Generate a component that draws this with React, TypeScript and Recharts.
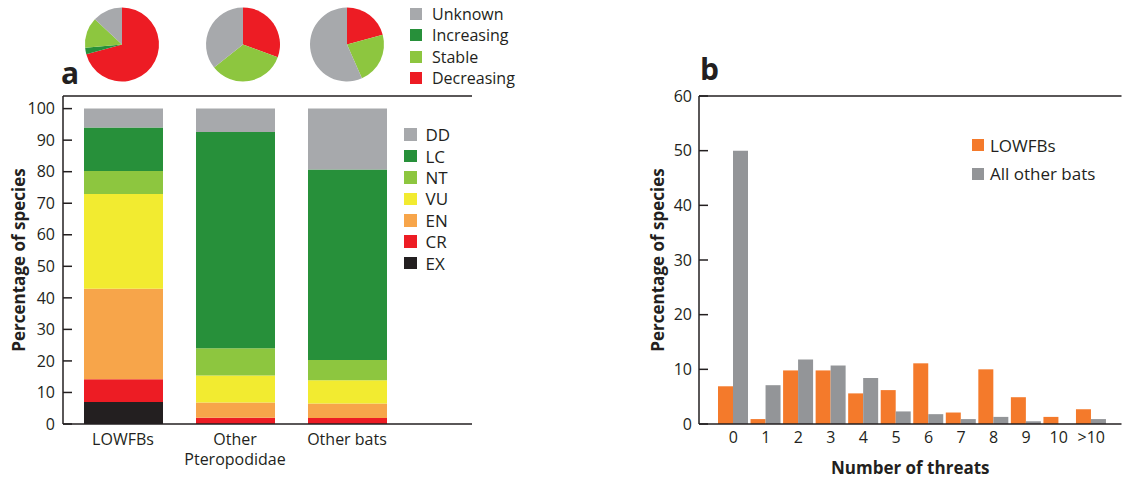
import React from "react";
import { BarChart, Bar, XAxis, YAxis, PieChart, Pie, Cell, ReferenceLine } from "recharts";

// panel a: IUCN status per group (percent, bottom to top)
const groups = ["LOWFBs", "Other Pteropodidae", "Other bats"];
const ex = [7, 0, 0];
const cr = [7.2, 2, 1.9];
const en = [28.7, 4.8, 4.6];
const vu = [30, 8.6, 7.4];
const nt = [7.3, 8.6, 6.4];
const lc = [13.8, 68.6, 60.4];
const dd = [6, 7.4, 19.3];
const statusKeys = ["EX", "CR", "EN", "VU", "NT", "LC", "DD"];
const statusTicks = [0, 10, 20, 30, 40, 50, 60, 70, 80, 90, 100];

// panel a pies: population trend
const trendLabels = ["Decreasing", "Increasing", "Stable", "Unknown"];
const trendLegendOrder = ["Unknown", "Increasing", "Stable", "Decreasing"];
const trendLowfbs = [70.8, 2.8, 13.3, 13.1];
const trendPtero = [30.6, 0, 33.7, 35.7];
const trendOther = [20.8, 0, 22.6, 56.6];

// panel b: number of threats
const threats = ["0", "1", "2", "3", "4", "5", "6", "7", "8", "9", "10", ">10"];
const lowfbsThreats = [6.9, 0.9, 9.8, 9.8, 5.6, 6.2, 11.1, 2.1, 10.0, 4.9, 1.3, 2.7];
const otherThreats = [50, 7.1, 11.8, 10.7, 8.4, 2.3, 1.8, 0.9, 1.3, 0.5, 0, 0.9];
const threatTicks = [0, 10, 20, 30, 40, 50, 60];

const FONT = "'Open Sans', sans-serif";
const INK = "#231f20";

const statusColors: Record<string, string> = {
  DD: "#a7a9ac",
  LC: "#27903a",
  NT: "#8dc63f",
  VU: "#f2eb30",
  EN: "#f7a54a",
  CR: "#ed1c24",
  EX: "#231f20",
};

const trendColors: Record<string, string> = {
  Unknown: "#a7a9ac",
  Increasing: "#27903a",
  Stable: "#8dc63f",
  Decreasing: "#ed1c24",
};

const statusRows = groups.map((g, i) => ({
  group: g,
  EX: ex[i],
  CR: cr[i],
  EN: en[i],
  VU: vu[i],
  NT: nt[i],
  LC: lc[i],
  DD: dd[i],
}));

const pieSets = [trendLowfbs, trendPtero, trendOther].map((vals) =>
  trendLabels.map((name, i) => ({ name, value: vals[i] }))
);
const pieCenters = [122, 243, 347];

const threatRows = threats.map((t, i) => ({
  threats: t,
  LOWFBs: lowfbsThreats[i],
  "All other bats": otherThreats[i],
}));

function GroupTick(props: any) {
  const { x, y, payload } = props;
  const value = String(payload.value);
  const lines = value === "Other Pteropodidae" ? ["Other", "Pteropodidae"] : [value];
  return (
    <text x={x} y={y} textAnchor="middle" fill={INK} fontSize={16} fontFamily={FONT}>
      {lines.map((l: string, i: number) => (
        <tspan key={i} x={x} dy={i === 0 ? 13 : 20}>
          {l}
        </tspan>
      ))}
    </text>
  );
}

const axisTick = { fill: INK, fontSize: 16, fontFamily: FONT };
const axisLine = { stroke: INK, strokeWidth: 1.5 };
const tickLine = { stroke: INK, strokeWidth: 1.5 };

export default function App() {
  return (
    <div style={{ position: "absolute", left: 0, top: 0, width: 1123, height: 480, background: "#fff", fontFamily: FONT, color: INK }}>
      {/* pies */}
      <div style={{ position: "absolute", left: 0, top: 0 }}>
        <PieChart width={400} height={92} margin={{ top: 0, right: 0, bottom: 0, left: 0 }}>
          {pieSets.map((set, k) => (
            <Pie
              key={k}
              data={set}
              dataKey="value"
              cx={pieCenters[k]}
              cy={44.5}
              outerRadius={37}
              startAngle={90}
              endAngle={-270}
              stroke="none"
              isAnimationActive={false}
            >
              {set.map((d) => (
                <Cell key={d.name} fill={trendColors[d.name]} />
              ))}
            </Pie>
          ))}
        </PieChart>
      </div>
      <div style={{ position: "absolute", left: 410, top: 3 }}>
        {trendLegendOrder.map((t) => (
          <div key={t} style={{ display: "flex", alignItems: "center", height: 21.5, fontSize: 16 }}>
            <span style={{ width: 12, height: 12, background: trendColors[t], marginRight: 10 }} />
            {t}
          </div>
        ))}
      </div>
      <div style={{ position: "absolute", left: 61, top: 52, fontSize: 30, fontWeight: 700 }}>a</div>

      {/* panel a */}
      <div style={{ position: "absolute", left: 0, top: 0 }}>
        <BarChart width={480} height={480} data={statusRows} margin={{ top: 96, right: 8, left: 0, bottom: 0 }}>
          <XAxis
            dataKey="group"
            height={56}
            interval={0}
            tickLine={false}
            axisLine={axisLine}
            tick={<GroupTick />}
            padding={{ left: 4, right: 69 }}
          />
          <YAxis
            yAxisId="l"
            width={63}
            domain={[0, 104]}
            ticks={statusTicks}
            allowDataOverflow
            tickSize={-9}
            tickMargin={17}
            tick={axisTick}
            tickLine={tickLine}
            axisLine={axisLine}
            label={{
              value: "Percentage of species",
              angle: -90,
              position: "center",
              dx: -13,
              style: { fill: INK, fontSize: 17, fontWeight: 700, fontFamily: FONT },
            }}
          />
          <YAxis
            yAxisId="r"
            orientation="right"
            width={0}
            domain={[0, 104]}
            ticks={statusTicks}
            allowDataOverflow
            tickSize={-9}
            tick={false}
            tickLine={tickLine}
            axisLine={axisLine}
          />
          <ReferenceLine yAxisId="l" y={104} stroke={INK} strokeWidth={1.5} />
          {statusKeys.map((k) => (
            <Bar key={k} yAxisId="l" dataKey={k} stackId="s" fill={statusColors[k]} barSize={79} isAnimationActive={false} />
          ))}
        </BarChart>
      </div>
      <div style={{ position: "absolute", left: 404, top: 124 }}>
        {[...statusKeys].reverse().map((k) => (
          <div key={k} style={{ display: "flex", alignItems: "center", height: 21.4, fontSize: 17 }}>
            <span style={{ width: 12.5, height: 12.5, background: statusColors[k], marginRight: 9 }} />
            {k}
          </div>
        ))}
      </div>

      {/* panel b */}
      <div style={{ position: "absolute", left: 700, top: 48, fontSize: 30, fontWeight: 700 }}>b</div>
      <div style={{ position: "absolute", left: 620, top: 0 }}>
        <BarChart
          width={503}
          height={480}
          data={threatRows}
          margin={{ top: 96, right: 1.5, left: 0, bottom: 0 }}
          barGap={0}
          barCategoryGap={1}
        >
          <XAxis
            dataKey="threats"
            height={56}
            interval={0}
            tickSize={0}
            tickMargin={8}
            tickLine={false}
            axisLine={axisLine}
            tick={axisTick}
            padding={{ left: 18, right: 14 }}
            label={{
              value: "Number of threats",
              position: "insideBottom",
              offset: 6,
              style: { fill: INK, fontSize: 17, fontWeight: 700, fontFamily: FONT },
            }}
          />
          <YAxis
            yAxisId="l"
            width={79}
            domain={[0, 60]}
            ticks={threatTicks}
            tickSize={-9}
            tickMargin={16}
            tick={axisTick}
            tickLine={tickLine}
            axisLine={axisLine}
            label={{
              value: "Percentage of species",
              angle: -90,
              position: "center",
              dx: -2,
              style: { fill: INK, fontSize: 17, fontWeight: 700, fontFamily: FONT },
            }}
          />
          <YAxis
            yAxisId="r"
            orientation="right"
            width={0}
            domain={[0, 60]}
            ticks={threatTicks}
            tickSize={-9}
            tick={false}
            tickLine={tickLine}
            axisLine={axisLine}
          />
          <ReferenceLine yAxisId="l" y={60} stroke={INK} strokeWidth={1.5} />
          <Bar yAxisId="l" dataKey="LOWFBs" fill="#f47a2b" isAnimationActive={false} />
          <Bar yAxisId="l" dataKey="All other bats" fill="#939598" isAnimationActive={false} />
        </BarChart>
      </div>
      <div style={{ position: "absolute", left: 972, top: 131 }}>
        {[
          ["LOWFBs", "#f47a2b"],
          ["All other bats", "#939598"],
        ].map(([name, color]) => (
          <div key={name} style={{ display: "flex", alignItems: "center", height: 28.5, fontSize: 17 }}>
            <span style={{ width: 12, height: 12, background: color, marginRight: 6 }} />
            {name}
          </div>
        ))}
      </div>
    </div>
  );
}
